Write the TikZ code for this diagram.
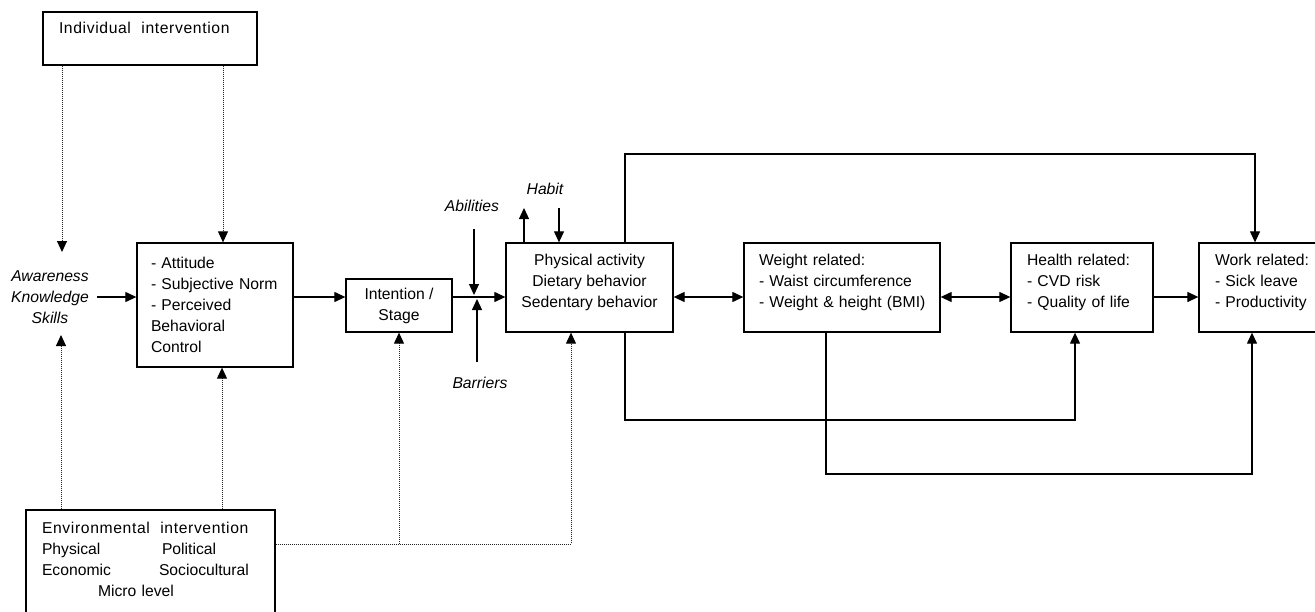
\documentclass[tikz,border=0pt]{standalone}
\usepackage{fontspec}
\setmainfont{Liberation Sans}
\newfontfamily\spacedfont[LetterSpace=4]{Liberation Sans}
\usetikzlibrary{arrows.meta,positioning}
\newcommand\fsz{\fontsize{15.7}{21}\selectfont}

\begin{document}
\begin{tikzpicture}[x=1pt,y=-1pt,>={Triangle[length=11pt,width=10pt]},line width=1.2pt,
                    font=\fsz,
                    box node/.style={draw,rectangle,line width=1.3pt,inner ysep=0pt},
                    left node/.style={box node,align=left},
                    mid node/.style={box node,align=center},
                    word node/.style={inner sep=0pt,font=\fsz\itshape,align=center},
                    dot line/.style={line width=1pt,dash pattern=on 1pt off 1pt,draw=black!85,
                                     -{Triangle[length=11pt,width=10pt,color=black]}}]

  \useasboundingbox[fill=white] (0,0) rectangle (1315,611);

  \node[left node,minimum width=214pt,minimum height=53pt,inner xsep=16pt,text width=182pt] (indiv) at (150,38.5)
    {\spacedfont Individual\ \ intervention\\ \mbox{}};
  \node[word node,inner xsep=8pt] (aks) at (50,297) {Awareness\\Knowledge\\Skills};
  \node[left node,minimum width=156pt,minimum height=124pt,inner xsep=14pt,text width=128pt] (att) at (215,305)
    {- Attitude\\\mbox{- Subjective Norm}\\- Perceived\\Behavioral\\Control};
  \node[mid node,minimum width=106pt,minimum height=53pt] (intent) at (399,305.5) {Intention /\\Stage};
  \node[mid node,minimum width=167pt,minimum height=89pt] (phys) at (589.5,287.5)
    {Physical activity\\Dietary behavior\\Sedentary behavior\\[-7pt]\mbox{}};
  \node[left node,minimum width=196pt,minimum height=89pt,inner xsep=15pt,text width=166pt] (weight) at (842,287.5)
    {\mbox{Weight related:}\\\mbox{- Waist circumference}\\\mbox{- Weight \& height (BMI)}\\[-7pt]\mbox{}};
  \node[left node,minimum width=142pt,minimum height=89pt,inner xsep=16pt,text width=110pt] (health) at (1082,287.5)
    {\mbox{Health related:}\\- CVD risk\\\mbox{- Quality of life}\\[-7pt]\mbox{}};
  \node[left node,minimum width=132pt,minimum height=89pt,inner xsep=16pt,text width=100pt] (work) at (1265,287.5)
    {\mbox{Work related:}\\- Sick leave\\- Productivity\\[-7pt]\mbox{}};
  \node[left node,minimum width=249pt,minimum height=120pt,inner xsep=16pt,text width=217pt] (env) at (150.5,570)
    {\mbox{\spacedfont Environmental\ \ intervention}\\
     \makebox[120pt][l]{Physical}Political\\
     \makebox[117pt][l]{Economic}Sociocultural\\
     \hspace*{56pt}Micro level\\ \mbox{}};

  \node[word node] (habit) at (545,189) {Habit};
  \node[word node] (abil) at (472,206) {Abilities};
  \node[word node] (barr) at (480,383) {Barriers};

  % main row
  \coordinate (row) at (0,297);
  \draw[->] (aks.east |- row) -- (att.west |- row);
  \draw[->] (att.east |- row) -- (intent.west |- row);
  \draw[->] (intent.east |- row) -- (phys.west |- row);
  \draw[<->] (phys.east |- row) -- (weight.west |- row);
  \draw[<->] (weight.east |- row) -- (health.west |- row);
  \draw[->] (health.east |- row) -- (work.west |- row);

  % moderators
  \coordinate (ab) at (474,229);
  \coordinate (ba) at (477,362);
  \draw[->,shorten >=2pt] (ab) -- (ab |- row);
  \draw[->,shorten >=2pt] (ba) -- (ba |- row);
  \coordinate (hu) at (524,208);
  \coordinate (hd) at (559,208);
  \draw[->] (phys.north -| hu) -- (hu);
  \draw[->] (hd) -- (hd |- phys.north);

  % feedback lines
  \coordinate (t1) at (625,154);
  \coordinate (t2) at (1255,154);
  \draw[->] (phys.north -| t1) -- (t1) -- (t2) -- (t2 |- work.north);
  \coordinate (b1) at (625,420);
  \coordinate (b2) at (1075,420);
  \draw[->] (phys.south -| b1) -- (b1) -- (b2) -- (b2 |- health.south);
  \coordinate (c1) at (826,474);
  \coordinate (c2) at (1252,474);
  \draw[->] (weight.south -| c1) -- (c1) -- (c2) -- (c2 |- work.south);

  % interventions
  \coordinate (d1) at (62,252);
  \coordinate (d2) at (223,0);
  \coordinate (d3) at (61,335);
  \coordinate (d4) at (222,0);
  \draw[dot line] (indiv.south -| d1) -- (d1);
  \draw[dot line] (indiv.south -| d2) -- (d2 |- att.north);
  \draw[dot line] (env.north -| d3) -- (d3);
  \draw[dot line] (env.north -| d4) -- (d4 |- att.south);
  \coordinate (e1) at (571,544);
  \coordinate (e2) at (399,544);
  \draw[dot line] (env.east |- e1) -- (e1) -- (e1 |- phys.south);
  \draw[dot line] (e2) -- (e2 |- intent.south);
\end{tikzpicture}
\end{document}
